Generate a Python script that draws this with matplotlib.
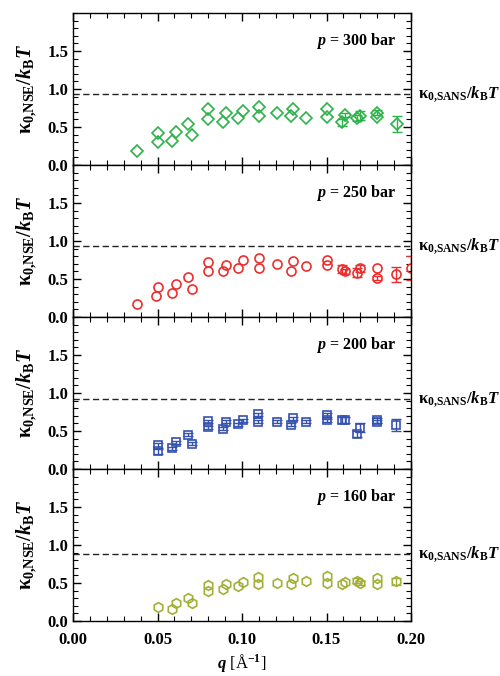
import numpy as np
import matplotlib
matplotlib.use('Agg')
import matplotlib.pyplot as plt
from matplotlib.ticker import MultipleLocator
import matplotlib.transforms as mtransforms

plt.rcParams['font.family'] = ['Liberation Serif', 'DejaVu Serif']
plt.rcParams['font.weight'] = 'bold'
plt.rcParams['mathtext.fontset'] = 'custom'
plt.rcParams['mathtext.rm'] = 'Liberation Serif:bold'
plt.rcParams['mathtext.it'] = 'Liberation Serif:italic:bold'
plt.rcParams['mathtext.bf'] = 'Liberation Serif:bold'

# p = 300 bar
q300 = [0.038, 0.050, 0.050, 0.0586, 0.061, 0.068, 0.0705, 0.080, 0.080, 0.0885, 0.0908,
        0.0977, 0.1003, 0.110, 0.110, 0.1208, 0.129, 0.130, 0.138, 0.150, 0.150,
        0.159, 0.161, 0.168, 0.170, 0.180, 0.180, 0.1915]
k300 = [0.18, 0.30, 0.42, 0.32, 0.43, 0.54, 0.39, 0.61, 0.73, 0.57, 0.68,
        0.62, 0.71, 0.64, 0.76, 0.68, 0.64, 0.73, 0.62, 0.63, 0.74,
        0.56, 0.66, 0.62, 0.65, 0.69, 0.63, 0.54]
e300 = [0, 0, 0, 0, 0, 0, 0, 0, 0, 0, 0,
        0, 0, 0, 0, 0, 0, 0, 0, 0, 0,
        0.05, 0.03, 0.04, 0.06, 0.03, 0, 0.10]

# p = 250 bar
q250 = [0.038, 0.0494, 0.050, 0.0586, 0.061, 0.068, 0.0705, 0.080, 0.080, 0.0885, 0.0908,
        0.0977, 0.1007, 0.110, 0.110, 0.1208, 0.129, 0.1303, 0.138, 0.150, 0.150,
        0.159, 0.161, 0.168, 0.170, 0.180, 0.180, 0.191, 0.200]
k250 = [0.17, 0.27, 0.39, 0.32, 0.44, 0.53, 0.37, 0.61, 0.72, 0.60, 0.68,
        0.65, 0.75, 0.65, 0.78, 0.70, 0.60, 0.73, 0.67, 0.69, 0.75,
        0.63, 0.60, 0.58, 0.64, 0.65, 0.51, 0.56, 0.64]
e250 = [0, 0, 0, 0, 0, 0, 0, 0, 0, 0, 0,
        0, 0, 0, 0, 0, 0, 0, 0, 0, 0,
        0.05, 0.03, 0.06, 0.05, 0, 0.03, 0.10, 0.16]

# p = 200 bar
q200 = [0.050, 0.050, 0.0586, 0.061, 0.068, 0.0705, 0.080, 0.080, 0.0885, 0.0908,
        0.0977, 0.1007, 0.1096, 0.1096, 0.1208, 0.1287, 0.130, 0.1378, 0.150, 0.150,
        0.159, 0.161, 0.168, 0.1698, 0.180, 0.180, 0.191]
k200 = [0.23, 0.31, 0.27, 0.35, 0.45, 0.33, 0.55, 0.63, 0.53, 0.62,
        0.59, 0.64, 0.62, 0.72, 0.62, 0.58, 0.67, 0.62, 0.64, 0.71,
        0.64, 0.64, 0.46, 0.54, 0.64, 0.62, 0.58]
e200 = [0.03, 0.03, 0.02, 0.02, 0.02, 0.02, 0.02, 0.02, 0.02, 0.02,
        0.02, 0.02, 0.02, 0.02, 0.02, 0.02, 0.02, 0.02, 0.02, 0.02,
        0.04, 0.04, 0.04, 0.06, 0.03, 0.02, 0.08]

# p = 160 bar
q160 = [0.050, 0.0586, 0.061, 0.068, 0.0705, 0.080, 0.080, 0.0885, 0.0908,
        0.0977, 0.1007, 0.1096, 0.1096, 0.1208, 0.1287, 0.130, 0.1378, 0.150, 0.150,
        0.159, 0.161, 0.168, 0.170, 0.180, 0.180, 0.191]
k160 = [0.18, 0.16, 0.24, 0.30, 0.23, 0.40, 0.47, 0.42, 0.49,
        0.46, 0.51, 0.49, 0.58, 0.50, 0.48, 0.56, 0.53, 0.50, 0.59,
        0.48, 0.51, 0.53, 0.50, 0.48, 0.57, 0.52]
e160 = [0, 0, 0, 0, 0, 0, 0, 0, 0,
        0, 0, 0, 0, 0, 0, 0, 0, 0, 0,
        0, 0, 0.03, 0.03, 0, 0, 0.05]

pressures = ['300', '250', '200', '160']
sans_levels = [0.94, 0.94, 0.92, 0.88]
colors = ['#2db34a', '#ec2e2e', '#3552b0', '#a3b038']
markers = ['D', 'o', 's', 'h']
msizes = [6, 6.5, 6, 7]

qs = [q300, q250, q200, q160]
ks = [k300, k250, k200, k160]
es = [e300, e250, e200, e160]

fig = plt.figure(figsize=(5, 6.76), dpi=100)
gs = fig.add_gridspec(4, 1, left=0.146, right=0.822, top=0.9808, bottom=0.0814, hspace=0)

for i in range(4):
    ax = fig.add_subplot(gs[i])
    q = np.array(qs[i])
    k = np.array(ks[i])
    e = np.array(es[i])
    m = e > 0
    ax.errorbar(q[m], k[m], yerr=e[m], fmt='none', ecolor=colors[i], elinewidth=1.0,
                capsize=3.5, capthick=1.0)
    ax.plot(q, k, markers[i], ms=msizes[i], mfc='none', mec=colors[i], mew=1.2)
    ax.axhline(sans_levels[i], color='#222222', ls=(0, (4.5, 2.5)), lw=1.0)
    ax.set_xlim(0, 0.2)
    ax.set_ylim(0, 2.0)
    ax.set_xticks([0.0, 0.05, 0.10, 0.15, 0.20])
    ax.xaxis.set_minor_locator(MultipleLocator(0.01))
    ax.set_yticks([0.0, 0.5, 1.0, 1.5])
    ax.set_yticklabels(['0.0', '0.5', '1.0', '1.5'])
    ax.yaxis.set_minor_locator(MultipleLocator(0.1))
    ax.tick_params(which='both', direction='in', top=True, right=True, labelsize=12)
    ax.tick_params(which='major', length=6, width=1.0)
    ax.tick_params(which='minor', length=3.5, width=0.8)
    ax.tick_params(axis='x', pad=8)
    for sp in ax.spines.values():
        sp.set_linewidth(1.0)
    ax.set_ylabel(r'$\mathrm{κ}_{0{,}\mathrm{NSE}}/k_\mathrm{B}T$', fontsize=14.5, labelpad=6)
    ax.text(0.955, 0.815, r'$p$ = ' + pressures[i] + ' bar', transform=ax.transAxes,
            ha='right', va='center', fontsize=11.5, fontweight='bold')
    trans = mtransforms.blended_transform_factory(ax.transAxes, ax.transData)
    ax.text(1.02, sans_levels[i], r'$\mathrm{κ}_{0{,}\mathrm{SANS}}/k_\mathrm{B}T$',
            transform=trans, ha='left', va='center', fontsize=12)
    if i < 3:
        ax.set_xticklabels([])
    else:
        ax.set_xticklabels(['0.00', '0.05', '0.10', '0.15', '0.20'])
        ax.set_xlabel(r'$q$ [Å$^{\mathrm{-1}}$]', fontsize=12, labelpad=3)

plt.savefig('out.png', dpi=100)
